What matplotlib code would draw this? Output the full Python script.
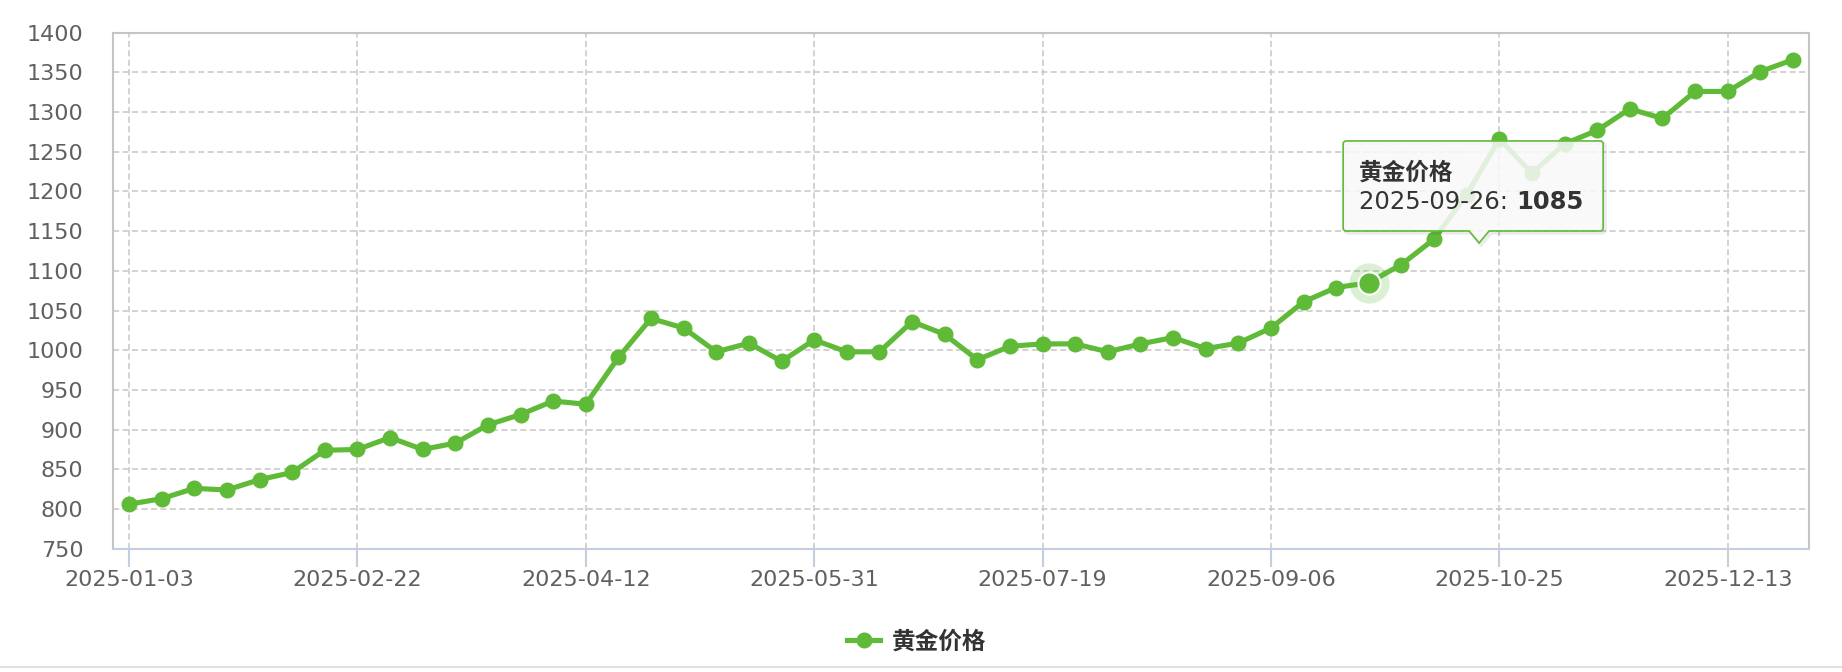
import numpy as np
import matplotlib
matplotlib.use("Agg")
import matplotlib.pyplot as plt
from matplotlib.lines import Line2D
from matplotlib.path import Path
from matplotlib.patches import PathPatch
from matplotlib.transforms import IdentityTransform

# weekly gold price (category axis)
dates = ["2025-01-03", "2025-01-11", "2025-01-18", "2025-01-25", "2025-02-01",
         "2025-02-08", "2025-02-15", "2025-02-22", "2025-03-01", "2025-03-08",
         "2025-03-15", "2025-03-22", "2025-03-29", "2025-04-05", "2025-04-12",
         "2025-04-19", "2025-04-26", "2025-05-03", "2025-05-10", "2025-05-17",
         "2025-05-24", "2025-05-31", "2025-06-07", "2025-06-14", "2025-06-21",
         "2025-06-28", "2025-07-05", "2025-07-12", "2025-07-19", "2025-07-26",
         "2025-08-02", "2025-08-09", "2025-08-16", "2025-08-23", "2025-08-30",
         "2025-09-06", "2025-09-13", "2025-09-20", "2025-09-26", "2025-10-04",
         "2025-10-11", "2025-10-18", "2025-10-25", "2025-11-01", "2025-11-08",
         "2025-11-15", "2025-11-22", "2025-11-29", "2025-12-06", "2025-12-13",
         "2025-12-20", "2025-12-27"]
prices = [806, 813, 826, 824, 837, 846, 874, 875, 890, 875,
          883, 906, 919, 936, 932, 991, 1040, 1028, 998, 1009,
          986, 1013, 998, 998, 1036, 1020, 988, 1005, 1008, 1008,
          998, 1008, 1016, 1002, 1009, 1028, 1061, 1079, 1085, 1108,
          1140, 1196, 1266, 1223, 1260, 1277, 1304, 1292, 1326, 1326,
          1351, 1366]
series_name = "黄金价格"
tick_every = 7
y_ticks = list(range(750, 1401, 50))
hover_idx = 38

GREEN = "#5fba38"
W, H = 1842, 672
plt.rcParams["font.family"] = ["DejaVu Sans", "Noto Sans CJK SC"]

fig = plt.figure(figsize=(W / 100, H / 100), dpi=100)
ax = fig.add_axes([112.7 / W, 1 - 548.7 / H, (1809.3 - 112.7) / W, (548.7 - 32.7) / H])

x = np.arange(len(prices))
ax.plot(x, prices, color=GREEN, lw=3.7, marker="o", ms=10.5, mec=GREEN, mfc=GREEN,
        zorder=3, solid_joinstyle="round", clip_on=False)

# hovered point: halo + enlarged marker
ax.plot(x[hover_idx], prices[hover_idx], "o", ms=29, color=GREEN, alpha=0.22, mew=0, zorder=4)
ax.plot(x[hover_idx], prices[hover_idx], "o", ms=16, mfc=GREEN, mec="white", mew=1.5, zorder=5)

ax.set_xlim(-0.5, len(prices) - 0.5)
ax.set_ylim(750, 1400)
ax.set_yticks(y_ticks)
ax.set_xticks(x[::tick_every])
ax.set_xticklabels(dates[::tick_every])

ax.grid(True, color="#c6c6c6", lw=1.1, ls=(0, (4, 2.2)), zorder=0)
ax.set_axisbelow(True)
for s in ["left", "top", "right"]:
    ax.spines[s].set_color("#c4c4c4")
    ax.spines[s].set_linewidth(1.5)
ax.spines["bottom"].set_color("#c0d0e0")
ax.spines["bottom"].set_linewidth(1.5)

ax.tick_params(axis="y", length=0, pad=21, labelsize=16, labelcolor="#606060")
ax.tick_params(axis="x", length=13, width=1.5, color="#c0d0e0", pad=2.5,
               labelsize=16, labelcolor="#606060")

# tooltip box with pointer, drawn in pixel coordinates
fig.canvas.draw()
px, py = ax.transData.transform((x[hover_idx], prices[hover_idx]))
left, right = px - 25.7, px + 234.3
top, bottom = py + 141.8, py + 51.8
nx, tip = px + 110.3, py + 39.8
r = 3
verts = [(left + r, bottom), (nx - 10, bottom), (nx, tip), (nx + 10, bottom),
         (right - r, bottom), (right, bottom), (right, bottom + r),
         (right, top - r), (right, top), (right - r, top),
         (left + r, top), (left, top), (left, top - r),
         (left, bottom + r), (left, bottom), (left + r, bottom)]
codes = [Path.MOVETO, Path.LINETO, Path.LINETO, Path.LINETO,
         Path.LINETO, Path.CURVE3, Path.CURVE3,
         Path.LINETO, Path.CURVE3, Path.CURVE3,
         Path.LINETO, Path.CURVE3, Path.CURVE3,
         Path.LINETO, Path.CURVE3, Path.CURVE3]
tip_path = Path(verts, codes)
shadow = Path([(vx + 2, vy - 2) for vx, vy in verts], codes)
fig.add_artist(PathPatch(shadow, transform=IdentityTransform(), fc="none",
                         ec="black", lw=2.5, alpha=0.08, zorder=9))
fig.add_artist(PathPatch(tip_path, transform=IdentityTransform(), fc=(0.976, 0.976, 0.976, 0.86),
                         ec=GREEN, lw=1.2, zorder=10))

fig.text(px - 9.7, py + 109.8, series_name, transform=IdentityTransform(),
         family=["Noto Sans CJK SC"], weight="bold", fontsize=17, color="#333333",
         ha="left", va="center", zorder=11)
t1 = fig.text(px - 9.4, py + 81.1, f"{dates[hover_idx]}: ", transform=IdentityTransform(),
              fontsize=17.5, color="#333333", ha="left", va="center", zorder=11)
fig.add_artist(plt.Annotation(str(prices[hover_idx]), xy=(1, 0.5), xycoords=t1,
                              fontsize=17.5, weight="bold", color="#333333",
                              ha="left", va="center", zorder=11))

# legend
handle = Line2D([], [], color=GREEN, lw=3.7, marker="o", ms=10.5)
fig.legend([handle], [series_name], loc="center", bbox_to_anchor=(917 / W, 1 - 641.7 / H),
           frameon=False, borderpad=0, handlelength=1.4, handletextpad=0.5,
           prop={"family": "Noto Sans CJK SC", "weight": "bold", "size": 17},
           labelcolor="#333333")

# thin separator at the bottom
fig.add_artist(Line2D([0, 1], [1 - 666.7 / H] * 2, transform=fig.transFigure,
                      color="#e2e2e2", lw=1.5))

fig.savefig("out.png", dpi=100)
